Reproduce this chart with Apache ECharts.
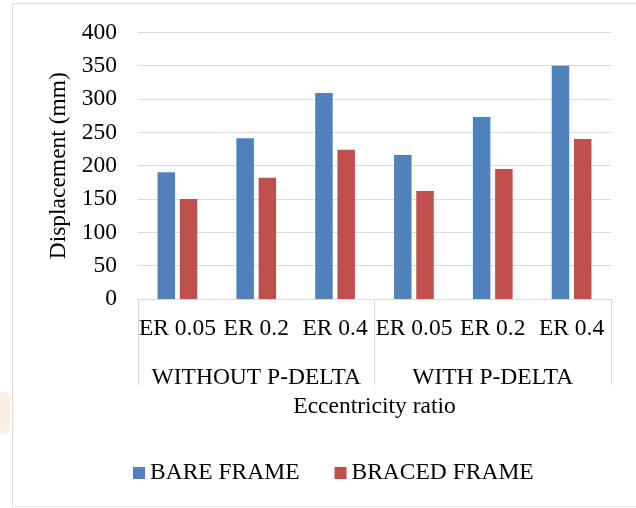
<!DOCTYPE html>
<html>
<head>
<meta charset="utf-8">
<script src="https://cdn.jsdelivr.net/npm/echarts@6/dist/echarts.min.js"></script>
<style>
  html, body { margin: 0; padding: 0; background: #fff; }
  #chart { width: 636px; height: 508px; }
</style>
</head>
<body>
<div id="chart"></div>
<script>
// Eccentricity ratio categories, grouped by analysis type
const erLabels = ['ER 0.05', 'ER 0.2', 'ER 0.4', 'ER 0.05', 'ER 0.2', 'ER 0.4'];
const groupLabels = ['WITHOUT P-DELTA', 'WITH P-DELTA'];

// Displacement (mm)
const bareFrame = [190, 241, 309, 216, 273, 350];
const bracedFrame = [150, 182, 224, 162, 195, 240];

const yTicks = { min: 0, max: 400, interval: 50 };

const FONT = 'Liberation Serif';
const FS = 23.5;
const GRID_LINE = '#d9d9d9';

const chart = echarts.init(document.getElementById('chart'), null, { renderer: 'canvas' });

chart.setOption({
  backgroundColor: '#fff',
  animation: false,
  textStyle: { fontFamily: FONT, color: '#000' },
  graphic: [
    // outer frame (top and left edges, bottom edge)
    { type: 'line', shape: { x1: 12.5, y1: 3.5, x2: 636, y2: 3.5 }, style: { stroke: '#d9d9d9', lineWidth: 1 } },
    { type: 'line', shape: { x1: 12.5, y1: 3.5, x2: 12.5, y2: 506.5 }, style: { stroke: '#d9d9d9', lineWidth: 1 } },
    { type: 'line', shape: { x1: 12.5, y1: 506.5, x2: 636, y2: 506.5 }, style: { stroke: '#e6e6e6', lineWidth: 1 } },
    // faint paper stain on the left margin
    { type: 'rect', shape: { x: -4, y: 392, width: 14, height: 42, r: 6 },
      style: { fill: 'rgba(240,218,198,0.35)', shadowBlur: 10, shadowColor: 'rgba(240,218,198,0.5)' } }
  ],
  grid: { left: 138, right: 25, top: 32.4, bottom: 209, containLabel: false },
  legend: {
    left: 128,
    top: 456,
    itemWidth: 12,
    itemHeight: 12,
    itemGap: 35,
    icon: 'rect',
    textStyle: { fontFamily: FONT, fontSize: FS, color: '#000', padding: [0, 0, 0, 0] },
    data: ['BARE FRAME', 'BRACED FRAME']
  },
  xAxis: [
    {
      type: 'category',
      data: erLabels,
      position: 'bottom',
      axisLine: { show: true, lineStyle: { color: GRID_LINE } },
      axisTick: { show: false },
      axisLabel: { interval: 0, margin: 18, fontFamily: FONT, fontSize: FS, color: '#000' }
    },
    {
      type: 'category',
      data: groupLabels,
      position: 'bottom',
      boundaryGap: true,
      axisLine: { show: true, lineStyle: { color: GRID_LINE } },
      axisTick: { show: true, length: 86, inside: false, interval: 0, lineStyle: { color: GRID_LINE } },
      axisLabel: { interval: 0, margin: 67, fontFamily: FONT, fontSize: FS, color: '#000' },
      name: 'Eccentricity ratio',
      nameLocation: 'middle',
      nameGap: 92,
      nameTextStyle: { fontFamily: FONT, fontSize: FS, color: '#000' }
    }
  ],
  yAxis: {
    type: 'value',
    min: yTicks.min,
    max: yTicks.max,
    interval: yTicks.interval,
    axisLine: { show: false },
    axisTick: { show: false },
    axisLabel: { margin: 21, fontFamily: FONT, fontSize: FS, color: '#000' },
    splitLine: { show: true, lineStyle: { color: GRID_LINE, width: 1 } },
    name: 'Displacement (mm)',
    nameLocation: 'middle',
    nameGap: 62,
    nameTextStyle: { fontFamily: FONT, fontSize: FS, color: '#000' }
  },
  series: [
    {
      name: 'BARE FRAME',
      type: 'bar',
      xAxisIndex: 0,
      data: bareFrame,
      barWidth: 17.5,
      barGap: '27%',
      itemStyle: { color: '#4F81BD' }
    },
    {
      name: 'BRACED FRAME',
      type: 'bar',
      xAxisIndex: 0,
      data: bracedFrame,
      barWidth: 17.5,
      barGap: '27%',
      itemStyle: { color: '#C0504D' }
    }
  ]
});
</script>
</body>
</html>
